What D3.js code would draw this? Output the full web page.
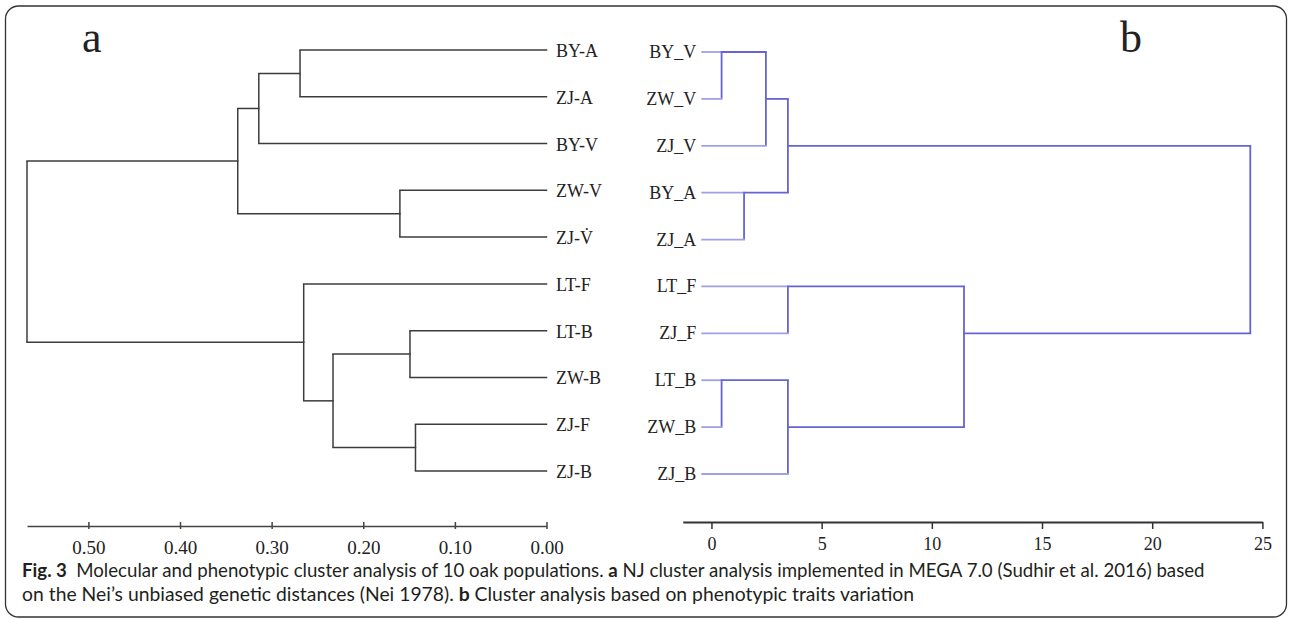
<!DOCTYPE html>
<html>
<head>
<meta charset="utf-8">
<script src="https://cdn.jsdelivr.net/npm/d3@7"></script>
<style>
  body { margin: 0; background: #fff; }
  svg { display: block; }
</style>
</head>
<body>
<script>
"use strict";

// panel a: NJ tree (Nei's genetic distance)
const leftLeaves = ["BY-A", "ZJ-A", "BY-V", "ZW-V", "ZJ-V\u0307", "LT-F", "LT-B", "ZW-B", "ZJ-F", "ZJ-B"];
// [child, child, height]; leaves are 0-9, merges are 10+
const leftMerges = [
  [0, 1, 0.269],
  [10, 2, 0.314],
  [3, 4, 0.160],
  [11, 12, 0.337],
  [6, 7, 0.149],
  [8, 9, 0.143],
  [14, 15, 0.233],
  [5, 16, 0.265],
  [13, 17, 0.567]
];
const leftTicks = [0.5, 0.4, 0.3, 0.2, 0.1, 0];

// panel b: rescaled distance cluster combine
const rightLeaves = ["BY_V", "ZW_V", "ZJ_V", "BY_A", "ZJ_A", "LT_F", "ZJ_F", "LT_B", "ZW_B", "ZJ_B"];
const rightMerges = [
  [0, 1, 0.46],
  [10, 2, 2.47],
  [3, 4, 1.48],
  [11, 12, 3.47],
  [5, 6, 3.47],
  [7, 8, 0.46],
  [15, 9, 3.47],
  [14, 16, 11.46],
  [13, 17, 24.45]
];
const rightTicks = [0, 5, 10, 15, 20, 25];

const captionLine1 = [["Fig. 3", true], ["\u2002Molecular and phenotypic cluster analysis of 10 oak populations. ", false], ["a", true], [" NJ cluster analysis implemented in MEGA 7.0 (Sudhir et al. 2016) based", false]];
const captionLine2 = [["on the Nei\u2019s unbiased genetic distances (Nei 1978). ", false], ["b", true], [" Cluster analysis based on phenotypic traits variation", false]];

const W = 1290, H = 619;
const serif = "'Liberation Serif', 'Times New Roman', serif";

const svg = d3.select("body").append("svg")
  .attr("width", W).attr("height", H)
  .attr("viewBox", `0 0 ${W} ${H}`);

svg.append("rect")
  .attr("x", 5.5).attr("y", 6).attr("width", 1281).attr("height", 611)
  .attr("rx", 13).attr("fill", "none").attr("stroke", "#333").attr("stroke-width", 1.3);

const buildTree = (leaves, merges, leafH, rowOf) => {
  const nodes = leaves.map((name, i) => ({name, row: i, h: leafH, leaf: true}));
  merges.forEach(([a, b, h]) => {
    const kids = [nodes[a], nodes[b]];
    nodes.push({children: kids, h, row: rowOf(kids[0].row, kids[1].row)});
  });
  return nodes;
};

const drawTree = (g, nodes, x, y, color, leafColor, width) => {
  nodes.filter(n => n.children).forEach(n => {
    const [a, b] = n.children;
    g.append("line")
      .attr("x1", x(n.h)).attr("x2", x(n.h))
      .attr("y1", y(a.row)).attr("y2", y(b.row))
      .attr("stroke", color).attr("stroke-width", width);
    n.children.forEach(c => {
      g.append("line")
        .attr("x1", x(c.h)).attr("x2", x(n.h))
        .attr("y1", y(c.row)).attr("y2", y(c.row))
        .attr("stroke", c.leaf ? leafColor : color).attr("stroke-width", width)
        .attr("stroke-linecap", "square");
    });
  });
};

// ---- panel a
const xLeft = d3.scaleLinear().domain([0.567, 0]).range([27, 546.5]);
const yLeft = d3.scaleLinear().domain([0, 9]).range([50, 471]);
const leftNodes = buildTree(leftLeaves, leftMerges, 0, (a, b) => (a + b) / 2);

const gA = svg.append("g");
drawTree(gA, leftNodes, xLeft, yLeft, "#3c3c3c", "#3c3c3c", 1.5);

gA.selectAll(".lab")
  .data(leftNodes.filter(n => n.leaf))
  .enter().append("text")
  .attr("x", xLeft(0) + 9.5)
  .attr("y", d => yLeft(d.row) + 7)
  .attr("font-family", serif).attr("font-size", 18).attr("fill", "#222")
  .text(d => d.name);

const axA = gA.append("g")
  .attr("transform", "translate(0,526)")
  .call(d3.axisBottom(xLeft).tickValues(leftTicks).tickFormat(d3.format(".2f")).tickSizeInner(3).tickSizeOuter(0).tickPadding(12));
axA.select(".domain").attr("stroke", "#444").attr("stroke-width", 1.5);
axA.selectAll(".tick line").attr("y1", -4).attr("stroke", "#444").attr("stroke-width", 1.5);
axA.selectAll(".tick text").attr("font-family", serif).attr("font-size", 19).attr("fill", "#222");

gA.append("text").attr("x", 82).attr("y", 52)
  .attr("font-family", serif).attr("font-size", 44).attr("fill", "#222").text("a");

// ---- panel b
const xRight = d3.scaleLinear().domain([-1.3, 25]).range([682.8, 1262.4]);
const yRight = d3.scaleLinear().domain([0, 9]).range([52, 474]);
const rightNodes = buildTree(rightLeaves, rightMerges, -0.42, (a, b) => Math.floor((a + b) / 2));

const gB = svg.append("g");
drawTree(gB, rightNodes, xRight, yRight, "#6464d4", "#a0a0e6", 1.8);

gB.selectAll(".lab")
  .data(rightNodes.filter(n => n.leaf))
  .enter().append("text")
  .attr("x", xRight(-0.42) - 6)
  .attr("y", d => yRight(d.row) + 6)
  .attr("text-anchor", "end")
  .attr("font-family", serif).attr("font-size", 18).attr("fill", "#222")
  .text(d => d.name);

const axB = gB.append("g")
  .attr("transform", "translate(0,522)")
  .call(d3.axisBottom(xRight).tickValues(rightTicks).tickSizeInner(7).tickSizeOuter(0).tickPadding(8));
axB.select(".domain").attr("stroke", "#333").attr("stroke-width", 2);
axB.selectAll(".tick line").attr("stroke", "#333").attr("stroke-width", 1.5);
axB.selectAll(".tick text").attr("font-family", serif).attr("font-size", 18).attr("fill", "#222");

gB.append("text").attr("x", 1120).attr("y", 52)
  .attr("font-family", serif).attr("font-size", 44).attr("fill", "#222").text("b");

// ---- caption, squeezed horizontally to the reference line widths
const caption = (parts, y, len) => {
  const g = svg.append("g");
  const t = g.append("text")
    .attr("font-family", "Lato, 'Open Sans', sans-serif").attr("font-size", 19.5)
    .attr("fill", "#231f20");
  parts.forEach(([s, bold]) => t.append("tspan").attr("font-weight", bold ? 700 : 400).text(s));
  const k = len / t.node().getComputedTextLength();
  g.attr("transform", `translate(22,${y}) scale(${k},1)`);
};
caption(captionLine1, 577, 1183);
caption(captionLine2, 601, 893);
</script>
</body>
</html>
